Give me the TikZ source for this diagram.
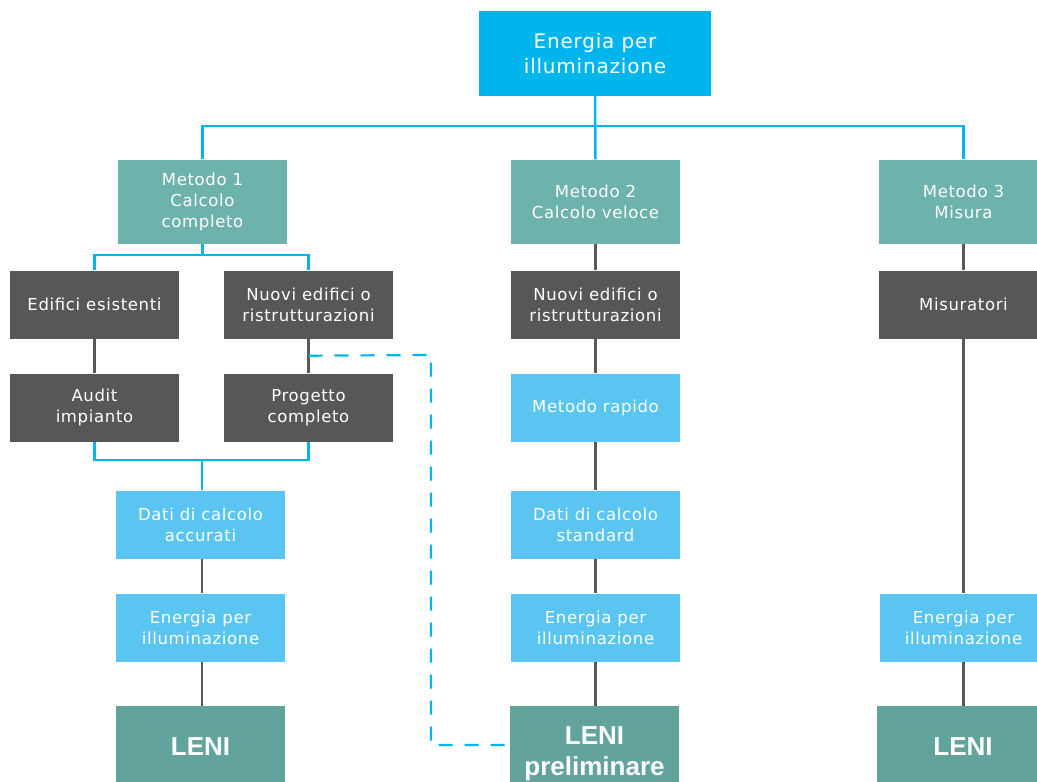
\documentclass[tikz,border=0pt]{standalone}
\usepackage{fontspec}
\newfontfamily\boxfont{DejaVu Sans}[LetterSpace=4]
\newfontfamily\lenifont{Liberation Sans}
\usetikzlibrary{calc}
\definecolor{topblue}{HTML}{00B5EC}
\definecolor{teal}{HTML}{6DB3AC}
\definecolor{darkbox}{HTML}{575757}
\definecolor{lightblue}{HTML}{5BC5F2}
\definecolor{lenicol}{HTML}{62A39C}
\definecolor{grayline}{HTML}{595959}
\tikzset{
  box/.style={inner sep=0pt, minimum width=169pt, minimum height=68pt, align=center, text=white,
    font=\boxfont\fontsize{16.5}{21}\selectfont},
  topbox/.style={box, fill=topblue, minimum width=232pt, minimum height=85pt, font=\boxfont\fontsize{20}{25}\selectfont},
  metbox/.style={box, fill=teal, minimum height=84pt},
  darkn/.style={box, fill=darkbox},
  lightn/.style={box, fill=lightblue},
  lenin/.style={box, fill=lenicol, minimum height=82pt, font=\lenifont\bfseries\fontsize{26}{31}\selectfont},
  bl/.style={draw=topblue, line width=2.5pt},
  gl/.style={draw=grayline, line width=2.5pt},
  dl/.style={draw=topblue, line width=2.2pt, dash pattern=on 14pt off 12pt},
}
\begin{document}
\begin{tikzpicture}[x=1pt,y=-1pt]
\clip (0,0) rectangle (1037,782);
\fill[white] (0,0) rectangle (1037,782);
% nodes
\node[topbox] (top) at (595,53.5) {Energia per\\illuminazione};
\node[metbox] (m1) at (202.5,201.5) {Metodo 1\\Calcolo\\completo};
\node[metbox] (m2) at (595.5,201.5) {Metodo 2\\Calcolo veloce};
\node[metbox] (m3) at (963.5,201.5) {Metodo 3\\Misura};
\node[darkn] (e1) at (94.5,304.5) {Edifici esistenti};
\node[darkn] (n1) at (308.5,304.5) {Nuovi edifici o\\ristrutturazioni};
\node[darkn] (n2) at (595.5,304.5) {Nuovi edifici o\\ristrutturazioni};
\node[darkn] (mis) at (963.5,304.5) {Misuratori};
\node[darkn] (a1) at (94.5,407.5) {Audit\\impianto};
\node[darkn] (p1) at (308.5,407.5) {Progetto\\completo};
\node[lightn] (r2) at (595.5,407.5) {Metodo rapido};
\node[lightn] (d1) at (200.5,524.5) {Dati di calcolo\\accurati};
\node[lightn] (d2) at (595.5,524.5) {Dati di calcolo\\standard};
\node[lightn] (en1) at (200.5,627.5) {Energia per\\illuminazione};
\node[lightn] (en2) at (595.5,627.5) {Energia per\\illuminazione};
\node[lightn, minimum width=167pt] (en3) at (963.5,627.5) {Energia per\\illuminazione};
\node[lenin] (L1) at (200.5,747) {LENI};
\node[lenin, minimum height=96pt] (L2) at (594.5,754) {LENI\\preliminare};
\node[lenin, minimum width=172pt] (L3) at (963,747) {LENI};
% blue bus connectors
\coordinate (bus1) at (595,126);
\draw[bl] (top.south) -- (m2.north);
\draw[bl] (m1.north) |- (bus1) -| (m3.north);
\coordinate (bus2) at (202.5,255);
\draw[bl] (m1.south) -- (bus2);
\draw[bl] (e1.north) |- (bus2) -| (n1.north);
\coordinate (bus3) at (202,460);
\draw[bl] (a1.south) |- (bus3) -| (p1.south);
\draw[bl] (bus3) -- (bus3 |- d1.north);
% gray connectors
\draw[gl] (e1.south) -- (a1.north);
\draw[gl] (n1.south) -- (p1.north);
\draw[gl] (d1.south -| bus3) -- (en1.north -| bus3);
\draw[gl] (en1.south -| bus3) -- (bus3 |- L1.north);
\draw[gl] (m2.south) -- (n2.north);
\draw[gl] (n2.south) -- (r2.north);
\draw[gl] (r2.south) -- (d2.north);
\draw[gl] (d2.south) -- (en2.north);
\draw[gl] (en2.south) -- (en2.south |- L2.north);
\draw[gl] (m3.south) -- (mis.north);
\draw[gl] (mis.south) -- (en3.north);
\draw[gl] (en3.south) -- (en3.south |- L3.north);
% dashed connector
\coordinate (ds) at ($(n1.south)+(0,17)$);
\coordinate (dc) at (431,355);
\coordinate (de) at (431,745);
\draw[dl] (ds) -- (dc) -- (de) -- (de -| L2.west);
\end{tikzpicture}
\end{document}
